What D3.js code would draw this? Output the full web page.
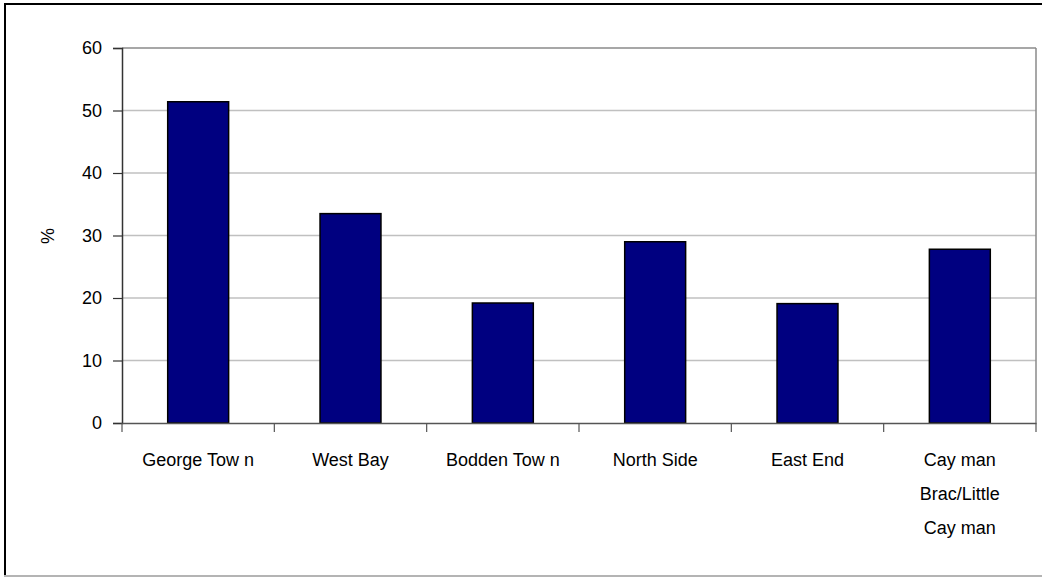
<!DOCTYPE html>
<html><head><meta charset="utf-8">
<script src="https://cdn.jsdelivr.net/npm/d3@7"></script>
<style>body{margin:0;background:#fff;} svg{display:block;}</style>
</head><body>
<svg id="c" width="1042" height="577"></svg>
<script>
const categories = ["George Tow n","West Bay","Bodden Tow n","North Side","East End","Cay man Brac/Little Cay man"];
const labelLines = [["George Tow n"],["West Bay"],["Bodden Tow n"],["North Side"],["East End"],["Cay man","Brac/Little","Cay man"]];
const values = [51.4, 33.5, 19.2, 29.0, 19.1, 27.8];
const yTicks = [0,10,20,30,40,50,60];
const yLabel = "%";

const svg = d3.select("#c");
const m = {left:122, right:1036, top:48, bottom:423};
const x = d3.scaleBand().domain(categories).range([m.left, m.right]).paddingInner(0.6).paddingOuter(0.3);
const xb = d3.scaleBand().domain(categories).range([m.left, m.right]);
const y = d3.scaleLinear().domain([0,60]).range([m.bottom, m.top]);
const FONT = "Liberation Sans, Arial, sans-serif";
const FS = 18;

// outer frame
svg.append("line").attr("x1",4).attr("x2",1042).attr("y1",4).attr("y2",4).attr("stroke","#000").attr("stroke-width",2);
svg.append("line").attr("x1",5).attr("x2",5).attr("y1",3).attr("y2",577).attr("stroke","#000").attr("stroke-width",2);
svg.append("line").attr("x1",4).attr("x2",1042).attr("y1",576).attr("y2",576).attr("stroke","#b4b4b4").attr("stroke-width",2);

// gridlines
svg.append("g").selectAll("line").data(yTicks.filter(d=>d>0 && d<60)).join("line")
  .attr("x1",m.left).attr("x2",m.right).attr("y1",d=>y(d)).attr("y2",d=>y(d))
  .attr("stroke","#c0c0c0").attr("stroke-width",1.5);
// plot border top/right
svg.append("line").attr("x1",m.left).attr("x2",m.right).attr("y1",y(60)).attr("y2",y(60)).attr("stroke","#8a8a8a").attr("stroke-width",1.5);
svg.append("line").attr("x1",m.right).attr("x2",m.right).attr("y1",y(60)).attr("y2",y(0)).attr("stroke","#8a8a8a").attr("stroke-width",1.5);

// bars
svg.append("g").selectAll("rect").data(values).join("rect")
  .attr("x",(d,i)=>x(categories[i])).attr("width",x.bandwidth())
  .attr("y",d=>y(d)).attr("height",d=>y(0)-y(d))
  .attr("fill","#000080").attr("stroke","#000").attr("stroke-width",1.5);

// y axis
const ya = svg.append("g").attr("transform",`translate(${m.left},0)`)
  .call(d3.axisLeft(y).tickValues(yTicks).tickSize(9).tickPadding(11).tickFormat(d3.format("d")));
ya.select(".domain").attr("stroke","#333").attr("stroke-width",1.5);
ya.selectAll(".tick line").attr("stroke","#333").attr("stroke-width",1.2);
ya.selectAll("text").attr("font-family",FONT).attr("font-size",FS).attr("fill","#000");

// x axis
const xa = svg.append("g").attr("transform",`translate(0,${m.bottom})`)
  .call(d3.axisBottom(xb).tickSize(0).tickFormat(""));
xa.select(".domain").attr("stroke","#555").attr("stroke-width",1.5);
xa.selectAll(".tick").remove();
const edges = categories.map(c=>xb(c)).concat([m.right]);
xa.selectAll("line.edge").data(edges).join("line").attr("class","edge")
  .attr("x1",d=>d).attr("x2",d=>d).attr("y1",0).attr("y2",9).attr("stroke","#555").attr("stroke-width",1.2);

// category labels
const lab = svg.append("g").attr("font-family",FONT).attr("font-size",FS).attr("fill","#000").attr("text-anchor","middle");
labelLines.forEach((lines,i)=>{
  const cx = xb(categories[i]) + xb.bandwidth()/2;
  const t = lab.append("text").attr("x", cx).attr("y",466);
  lines.forEach((l,j)=>t.append("tspan").attr("x", cx).attr("dy", j===0?0:34).text(l));
});

// y label
svg.append("text").attr("transform","translate(54,236) rotate(-90)").attr("text-anchor","middle")
  .attr("font-family",FONT).attr("font-size",FS).text(yLabel);
</script>
</body></html>
